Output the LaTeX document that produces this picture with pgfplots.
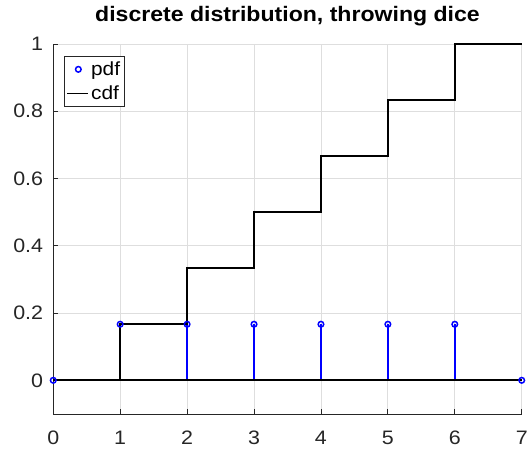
\documentclass[border=0pt]{standalone}
\usepackage{fontspec}
\setmainfont[FakeStretch=1.1]{Liberation Sans}
\usepackage{pgfplots}
\pgfplotsset{compat=1.18}
\definecolor{gridc}{gray}{0.87}
\definecolor{axc}{gray}{0.15}
\begin{document}
\begin{tikzpicture}
\begin{axis}[
 scale only axis, width=469bp, height=370.4bp,
 xmin=0, xmax=7, ymin=-0.1, ymax=1,
 axis x line*=bottom, axis y line*=left,
 axis line style={-, draw=axc, line width=0.8bp},
 xtick={0,1,2,3,4,5,6,7}, ytick={0,0.2,0.4,0.6,0.8,1},
 tick align=inside, major tick length=5bp,
 tick style={axc, line width=0.8bp},
 grid=major, major grid style={gridc, line width=0.8bp},
 clip=false,
 /pgf/number format/assume math mode=true,
 /pgf/number format/fixed,
 tick label style={font=\fontsize{19.5bp}{23bp}\selectfont, text=axc},
 xticklabel style={anchor=base, yshift=-30.6bp},
 yticklabel style={anchor=east, inner sep=0pt, xshift=-10bp},
 title={discrete distribution, throwing dice},
 title style={font=\fontsize{21bp}{25bp}\selectfont\bfseries, at={(0.5,1)}, anchor=base, yshift=16.5bp},
 legend style={at={(0.0235,0.9676)}, anchor=north west, draw=axc, line width=0.6bp,
   font=\fontsize{19bp}{21bp}\selectfont, inner xsep=2bp, inner ysep=3.5bp, row sep=5bp,
   cells={anchor=west}},
]
\addplot[blue, line width=1.5bp, ycomb, forget plot] coordinates {
 (0,0) (1,0.166667) (2,0.166667) (3,0.166667) (4,0.166667) (5,0.166667) (6,0.166667) (7,0)};
\addplot[black, line width=1.8bp, forget plot] coordinates {(0,0) (7,0)};
\addplot[black, line width=1.8bp, const plot, forget plot] coordinates {
 (0,0) (1,0.166667) (2,0.333333) (3,0.5) (4,0.666667) (5,0.833333) (6,1) (7,1)};
\addplot[blue, only marks, mark=o, mark size=2.8bp, mark options={blue, line width=1.5bp}, forget plot] coordinates {
 (0,0) (1,0.166667) (2,0.166667) (3,0.166667) (4,0.166667) (5,0.166667) (6,0.166667) (7,0)};
\addlegendimage{blue, legend image code/.code={\draw[blue, line width=1.5bp] (11bp,0bp) circle[radius=2.8bp];}}
\addlegendentry{pdf}
\addlegendimage{black, legend image code/.code={\draw[black, line width=1.6bp] (0bp,0bp) -- (21bp,0bp);}}
\addlegendentry{cdf}
\end{axis}
\path ([xshift=-53.3bp,yshift=-37.6bp]current axis.south west) rectangle ++(531bp,452bp);
\end{tikzpicture}
\end{document}
